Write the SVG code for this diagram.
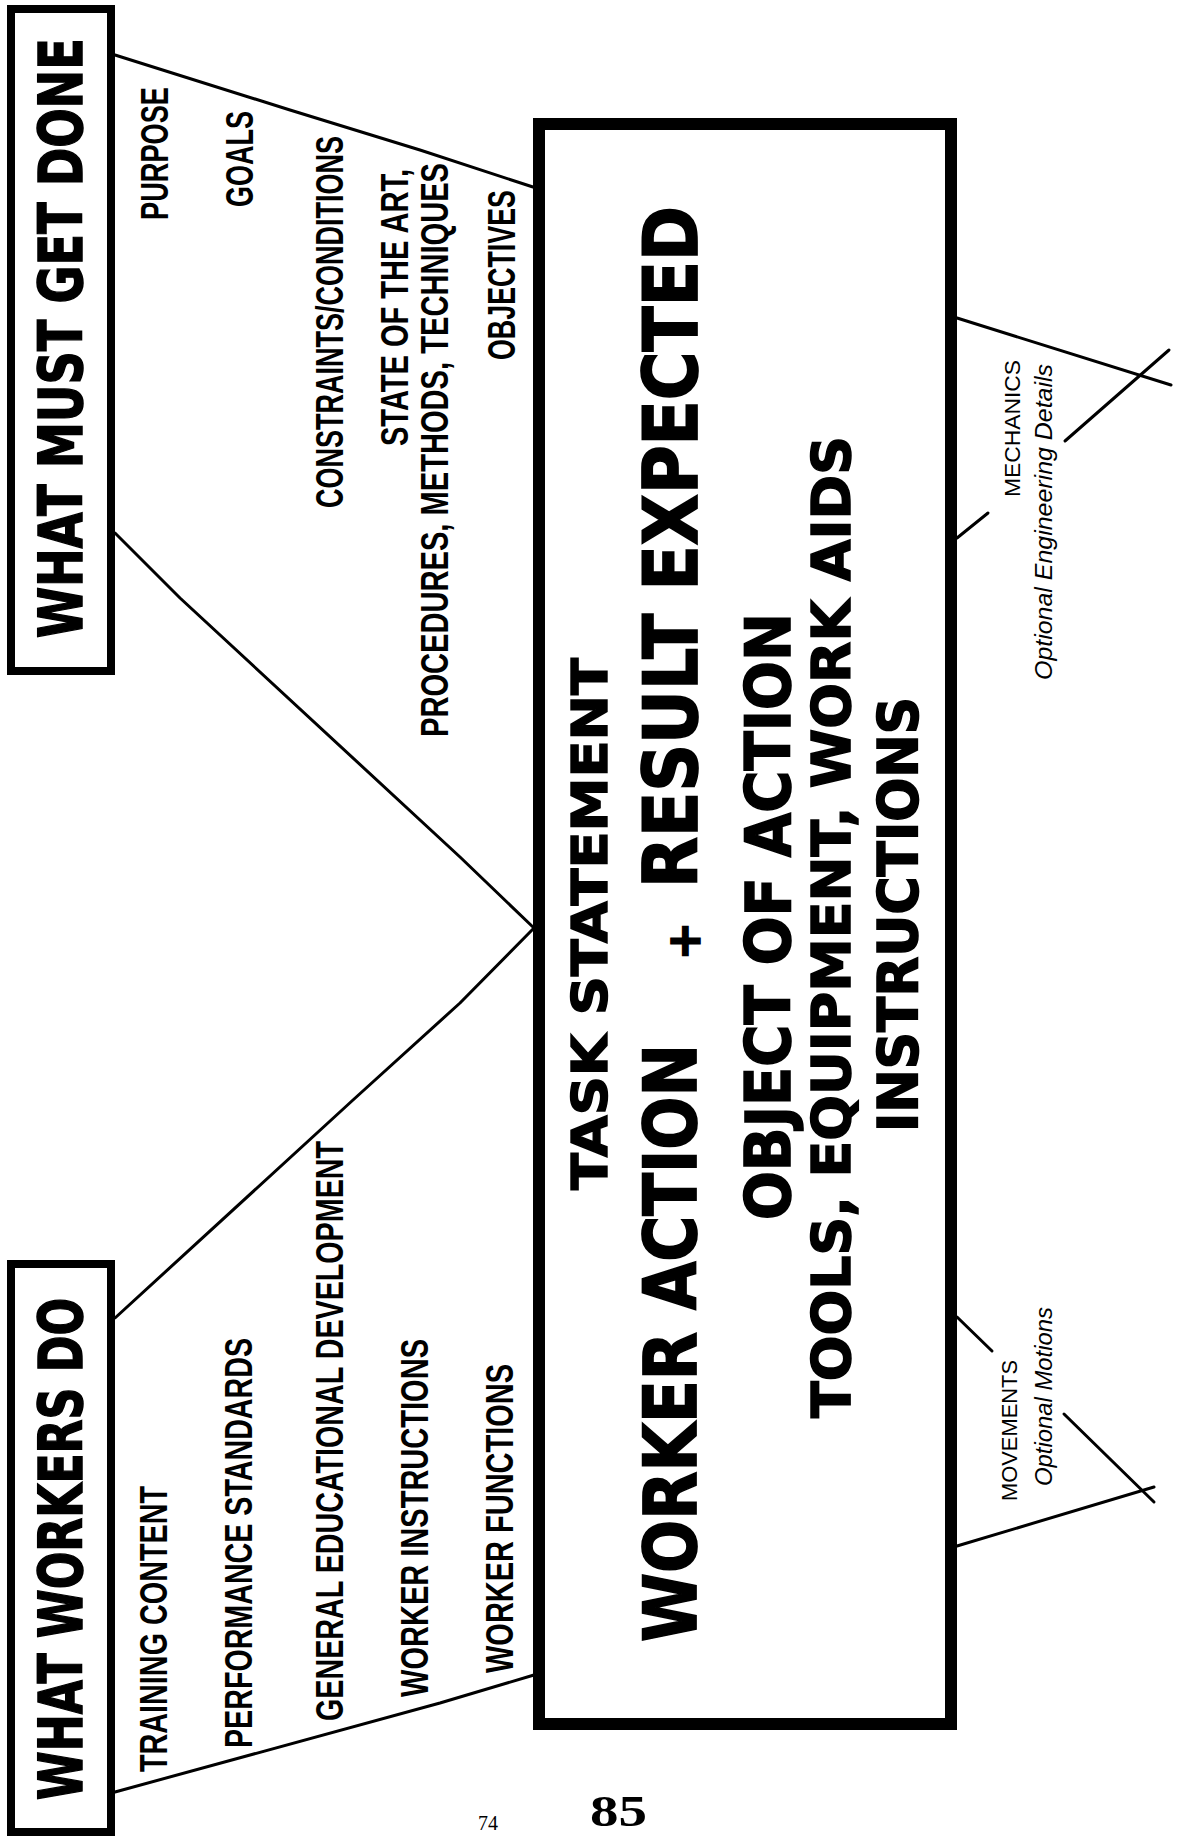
<svg xmlns="http://www.w3.org/2000/svg" width="1177" height="1839" viewBox="0 0 1177 1839">
<style>
.bg{fill:#fff}
.box{fill:#fff;stroke:#000;stroke-width:8}
.main{fill:#fff;stroke:#000;stroke-width:12}
.ln{stroke:#000;stroke-width:3;fill:none;stroke-linecap:round;stroke-linejoin:round}
.head{font-family:"DejaVu Sans",sans-serif;font-weight:bold;font-size:46px;fill:#000;stroke:#000;stroke-width:1.2}
.lab{font-family:"Liberation Sans",sans-serif;font-weight:bold;font-size:28px;fill:#000}
.big{font-family:"DejaVu Sans",sans-serif;font-weight:bold;fill:#000;stroke:#000;stroke-width:1.5}
.sm{font-family:"Liberation Sans",sans-serif;font-size:22px;fill:#000}
.it{font-family:"Liberation Sans",sans-serif;font-size:23px;font-style:italic;fill:#000}
.pg{font-family:"Liberation Serif",serif;fill:#000}
</style>
<rect class="bg" x="0" y="0" width="1177" height="1839"/>
<g id="connectors">
<polyline class="ln" points="115,55 290,110 420,150 533,187"/>
<polyline class="ln" points="115,533 180,598 460,857 534,928"/>
<polyline class="ln" points="534,928 460,1003 353,1100 115,1318"/>
<polyline class="ln" points="115,1792 440,1703 534,1675"/>
<polyline class="ln" points="957,318 1171,385"/>
<polyline class="ln" points="1065,441 1169,350"/>
<polyline class="ln" points="957,538 988,513"/>
<polyline class="ln" points="957,1546 1154,1487"/>
<polyline class="ln" points="1064,1414 1154,1502"/>
<polyline class="ln" points="957,1317 992,1351"/>
</g>
<g id="what-must-get-done">
<rect class="box" x="11" y="9" width="100" height="662"/>
<text class="head" transform="translate(82,638) rotate(-90) scale(1,1.3)" textLength="600" lengthAdjust="spacingAndGlyphs">WHAT MUST GET DONE</text>
</g>
<g id="what-workers-do">
<rect class="box" x="11" y="1264" width="100" height="568"/>
<text class="head" transform="translate(82,1800) rotate(-90) scale(1,1.3)" textLength="502" lengthAdjust="spacingAndGlyphs">WHAT WORKERS DO</text>
</g>
<g id="top-labels">
<text class="lab" transform="translate(168,220) rotate(-90) scale(1,1.4)" textLength="133" lengthAdjust="spacingAndGlyphs">PURPOSE</text>
<text class="lab" transform="translate(253,207) rotate(-90) scale(1,1.4)" textLength="96" lengthAdjust="spacingAndGlyphs">GOALS</text>
<text class="lab" transform="translate(343,508) rotate(-90) scale(1,1.4)" textLength="372" lengthAdjust="spacingAndGlyphs">CONSTRAINTS/CONDITIONS</text>
<text class="lab" transform="translate(408,446) rotate(-90) scale(1,1.4)" textLength="277" lengthAdjust="spacingAndGlyphs">STATE OF THE ART,</text>
<text class="lab" transform="translate(448,737) rotate(-90) scale(1,1.4)" textLength="574" lengthAdjust="spacingAndGlyphs">PROCEDURES, METHODS, TECHNIQUES</text>
<text class="lab" transform="translate(515,360) rotate(-90) scale(1,1.4)" textLength="170" lengthAdjust="spacingAndGlyphs">OBJECTIVES</text>
</g>
<g id="bottom-labels">
<text class="lab" transform="translate(167,1772) rotate(-90) scale(1,1.4)" textLength="286" lengthAdjust="spacingAndGlyphs">TRAINING CONTENT</text>
<text class="lab" transform="translate(252,1748) rotate(-90) scale(1,1.4)" textLength="410" lengthAdjust="spacingAndGlyphs">PERFORMANCE STANDARDS</text>
<text class="lab" transform="translate(343,1721) rotate(-90) scale(1,1.4)" textLength="580" lengthAdjust="spacingAndGlyphs">GENERAL EDUCATIONAL DEVELOPMENT</text>
<text class="lab" transform="translate(428,1697) rotate(-90) scale(1,1.4)" textLength="358" lengthAdjust="spacingAndGlyphs">WORKER INSTRUCTIONS</text>
<text class="lab" transform="translate(513,1673) rotate(-90) scale(1,1.4)" textLength="309" lengthAdjust="spacingAndGlyphs">WORKER FUNCTIONS</text>
</g>
<g id="task-statement">
<rect class="main" x="539" y="124" width="412" height="1600"/>
<text class="big" font-size="52" transform="translate(607,1190) rotate(-90) scale(1,0.95)" textLength="532" lengthAdjust="spacingAndGlyphs">TASK STATEMENT</text>
<text class="big" font-size="63" transform="translate(696,1642) rotate(-90) scale(1,1.17)" textLength="598" lengthAdjust="spacingAndGlyphs">WORKER ACTION</text>
<text class="big" font-size="46" text-anchor="middle" transform="translate(700,941) rotate(-90)">+</text>
<text class="big" font-size="65" transform="translate(697,888) rotate(-90) scale(1,1.14)" textLength="682" lengthAdjust="spacingAndGlyphs">RESULT EXPECTED</text>
<text class="big" font-size="58" transform="translate(790,1220) rotate(-90) scale(1,1.07)" textLength="607" lengthAdjust="spacingAndGlyphs">OBJECT OF ACTION</text>
<text class="big" font-size="53" transform="translate(850,1418) rotate(-90)" textLength="982" lengthAdjust="spacingAndGlyphs">TOOLS, EQUIPMENT, WORK AIDS</text>
<text class="big" font-size="52" transform="translate(917,1132) rotate(-90) scale(1,1.05)" textLength="435" lengthAdjust="spacingAndGlyphs">INSTRUCTIONS</text>
</g>
<g id="mechanics">
<text class="sm" transform="translate(1020,497) rotate(-90)" textLength="137" lengthAdjust="spacingAndGlyphs">MECHANICS</text>
<text class="it" transform="translate(1052,680) rotate(-90)" textLength="316" lengthAdjust="spacingAndGlyphs">Optional Engineering Details</text>
</g>
<g id="movements">
<text class="sm" transform="translate(1017,1501) rotate(-90)" textLength="141" lengthAdjust="spacingAndGlyphs">MOVEMENTS</text>
<text class="it" transform="translate(1052,1486) rotate(-90)" textLength="179" lengthAdjust="spacingAndGlyphs">Optional Motions</text>
</g>
<g id="page-numbers">
<text class="pg" font-size="45" font-weight="bold" x="590" y="1826" textLength="57" lengthAdjust="spacingAndGlyphs">85</text>
<text class="pg" font-size="20" x="478" y="1830">74</text>
</g>
</svg>
